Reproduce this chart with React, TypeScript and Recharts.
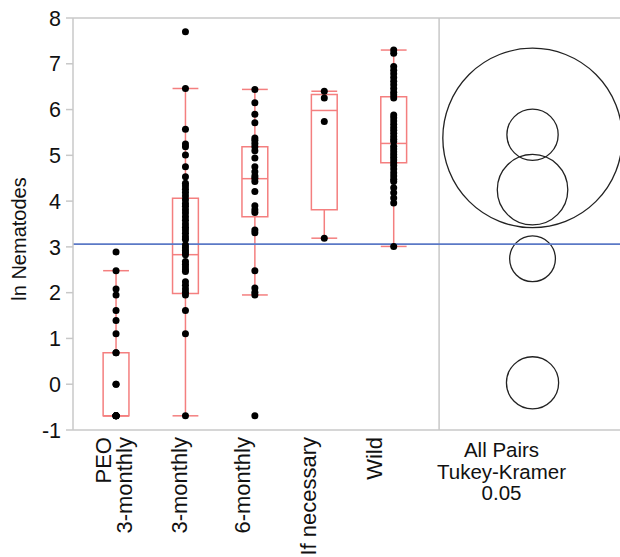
import React from 'react';
import { ComposedChart, Scatter, XAxis, YAxis, ReferenceLine, ReferenceArea, Label } from 'recharts';

// group order on the x axis
const GROUP_LABELS = [['PEO', '3-monthly'], ['3-monthly'], ['6-monthly'], ['If necessary'], ['Wild']];
const COMPARE_LABEL = ['All Pairs', 'Tukey-Kramer', '0.05'];
const Y_TICKS = [-1, 0, 1, 2, 3, 4, 5, 6, 7, 8];

// ln(nematode count) per animal
const PEO_3M = [2.89, 2.48, 2.08, 1.95, 1.61, 1.39, 1.1, 0.69, 0.69, 0, 0, -0.69, -0.69, -0.69, -0.69, -0.69, -0.69];
const THREE_M = [
  7.7, 6.46, 5.57, 5.25, 5.19, 5.01, 4.75, 4.53, 4.39, 4.33, 4.26, 4.19, 4.11, 4.03, 3.95, 3.89, 3.81, 3.74,
  3.66, 3.58, 3.5, 3.43, 3.37, 3.3, 3.22, 3.16, 3.04, 2.98, 2.92, 2.87, 2.83, 2.68, 2.62, 2.56, 2.5, 2.46,
  2.24, 2.16, 2.08, 2.01, 1.95, 1.61, 1.1, -0.69,
];
const SIX_M = [
  6.44, 6.15, 5.9, 5.71, 5.38, 5.33, 5.26, 5.19, 5.1, 4.94, 4.75, 4.64, 4.55, 4.5, 4.43, 4.21, 3.9, 3.81, 3.75,
  3.37, 3.31, 2.48, 2.1, 2.01, 1.95, -0.69,
];
const IF_NEEDED = [6.4, 6.25, 5.74, 3.19];
const WILD = [
  7.3, 7.23, 6.94, 6.86, 6.78, 6.7, 6.62, 6.54, 6.46, 6.38, 6.32, 6.25, 5.88, 5.82, 5.75, 5.68, 5.61, 5.55,
  5.48, 5.41, 5.35, 5.3, 5.2, 5.14, 5.08, 5.02, 4.96, 4.9, 4.84, 4.78, 4.7, 4.62, 4.55, 4.48, 4.43, 4.29,
  4.18, 4.07, 3.96, 3.01,
];

// box plot summaries
const Q1 = [-0.69, 1.98, 3.66, 3.81, 4.84];
const MEDIAN = [-0.69, 2.83, 4.49, 5.98, 5.26];
const Q3 = [0.69, 4.06, 5.19, 6.33, 6.28];
const WHISKER_LO = [-0.69, -0.69, 1.95, 3.19, 3.01];
const WHISKER_HI = [2.48, 6.46, 6.44, 6.4, 7.3];

// Tukey-Kramer comparison circles (center = group mean, radius in y units)
const CIRCLE_MEAN = [0.03, 2.74, 4.25, 5.38, 5.45];
const CIRCLE_RADIUS = [0.57, 0.5, 0.77, 1.96, 0.56];
const GRAND_MEAN = 3.06;

const COMPARE_X = 6;
const DIVIDER_X = 4.654;
const HALF_BOX = 0.186;

const RED = '#f47f7f';
const GRID = '#c8c8c8';
const FONT = '"Liberation Sans", Arial, sans-serif';
const LABEL_NUDGE = [-2.5, -6.5, -13, -16, -20];

const points = [PEO_3M, THREE_M, SIX_M, IF_NEEDED, WILD].flatMap((vals, g) => vals.map((v) => ({ x: g, y: v })));

const Dot = (p: any) => <circle cx={p.cx} cy={p.cy} r={3.5} fill="#000" />;

const Ring = (p: any) => (
  <circle cx={p.x + p.width / 2} cy={p.y + p.height / 2} r={p.height / 2} fill="none" stroke="#222" strokeWidth={1.3} />
);

const XTick = (props: any) => {
  const { x, y, payload } = props;
  if (payload.value === COMPARE_X) {
    return (
      <g>
        {COMPARE_LABEL.map((t, k) => (
          <text key={k} x={x - 31} y={y + 27 + k * 21.5} textAnchor="middle" fontSize={20.5} fontFamily={FONT} fill="#111">
            {t}
          </text>
        ))}
      </g>
    );
  }
  const lines = GROUP_LABELS[payload.value];
  const top = y + 7;
  return (
    <g>
      {lines.map((t, k) => {
        const lx = x + LABEL_NUDGE[payload.value] + (k - (lines.length - 1) / 2) * 21;
        return (
          <text
            key={k}
            x={lx}
            y={top}
            dy="0.36em"
            transform={`rotate(-90 ${lx} ${top})`}
            textAnchor="end"
            fontSize={22}
            fontFamily={FONT}
            fill="#111"
          >
            {t}
          </text>
        );
      })}
    </g>
  );
};

const YTitle = () => (
  <text x={19} y={239} dy="0.36em" transform="rotate(-90 19 239)" textAnchor="middle" fontSize={20} fontFamily={FONT} fill="#111">
    ln Nematodes
  </text>
);

export default function App() {
  return (
    <div style={{ position: 'absolute', left: 0, top: 0, background: '#fff' }}>
      <ComposedChart width={620} height={557} margin={{ top: 18, right: 0, bottom: 0, left: 0 }}>
        <XAxis
          type="number"
          dataKey="x"
          domain={[-0.62, 7.26]}
          ticks={[0, 1, 2, 3, 4, COMPARE_X]}
          allowDataOverflow
          height={127}
          tickLine={false}
          tickSize={0}
          tickMargin={0}
          axisLine={{ stroke: GRID, strokeWidth: 1.5 }}
          tick={<XTick />}
        />
        <YAxis
          type="number"
          dataKey="y"
          domain={[-1, 8]}
          ticks={Y_TICKS}
          allowDataOverflow
          width={73}
          tickSize={7}
          tickMargin={5}
          axisLine={{ stroke: GRID, strokeWidth: 1.5 }}
          tickLine={{ stroke: GRID, strokeWidth: 1.5 }}
          tick={{ fontSize: 21.5, fontFamily: FONT, fill: '#111' }}
          label={<Label content={<YTitle />} />}
        />
        <ReferenceLine y={8} stroke={GRID} strokeWidth={1.5} />
        <ReferenceLine x={DIVIDER_X} stroke={GRID} strokeWidth={1.5} />

        {Q1.map((q1, i) => (
          <ReferenceArea
            key={`box${i}`}
            x1={i - HALF_BOX}
            x2={i + HALF_BOX}
            y1={q1}
            y2={Q3[i]}
            fill="none"
            fillOpacity={0}
            stroke={RED}
            strokeWidth={1.5}
            strokeOpacity={1}
          />
        ))}
        {MEDIAN.map((m, i) => (
          <ReferenceLine key={`med${i}`} segment={[{ x: i - HALF_BOX, y: m }, { x: i + HALF_BOX, y: m }]} stroke={RED} strokeWidth={1.5} />
        ))}
        {WHISKER_LO.map((lo, i) => (
          <ReferenceLine key={`wlo${i}`} segment={[{ x: i, y: lo }, { x: i, y: Q1[i] }]} stroke={RED} strokeWidth={1.5} />
        ))}
        {WHISKER_HI.map((hi, i) => (
          <ReferenceLine key={`whi${i}`} segment={[{ x: i, y: Q3[i] }, { x: i, y: hi }]} stroke={RED} strokeWidth={1.5} />
        ))}
        {WHISKER_LO.map((lo, i) => (
          <ReferenceLine key={`clo${i}`} segment={[{ x: i - HALF_BOX, y: lo }, { x: i + HALF_BOX, y: lo }]} stroke={RED} strokeWidth={1.5} />
        ))}
        {WHISKER_HI.map((hi, i) => (
          <ReferenceLine key={`chi${i}`} segment={[{ x: i - HALF_BOX, y: hi }, { x: i + HALF_BOX, y: hi }]} stroke={RED} strokeWidth={1.5} />
        ))}

        <ReferenceLine y={GRAND_MEAN} stroke="#5b79c6" strokeWidth={1.6} />

        {CIRCLE_MEAN.map((m, i) => (
          <ReferenceArea
            key={`ring${i}`}
            x1={COMPARE_X - 0.1}
            x2={COMPARE_X + 0.1}
            y1={m - CIRCLE_RADIUS[i]}
            y2={m + CIRCLE_RADIUS[i]}
            shape={<Ring />}
          />
        ))}

        <Scatter data={points} isAnimationActive={false} shape={<Dot />} />
      </ComposedChart>
    </div>
  );
}
